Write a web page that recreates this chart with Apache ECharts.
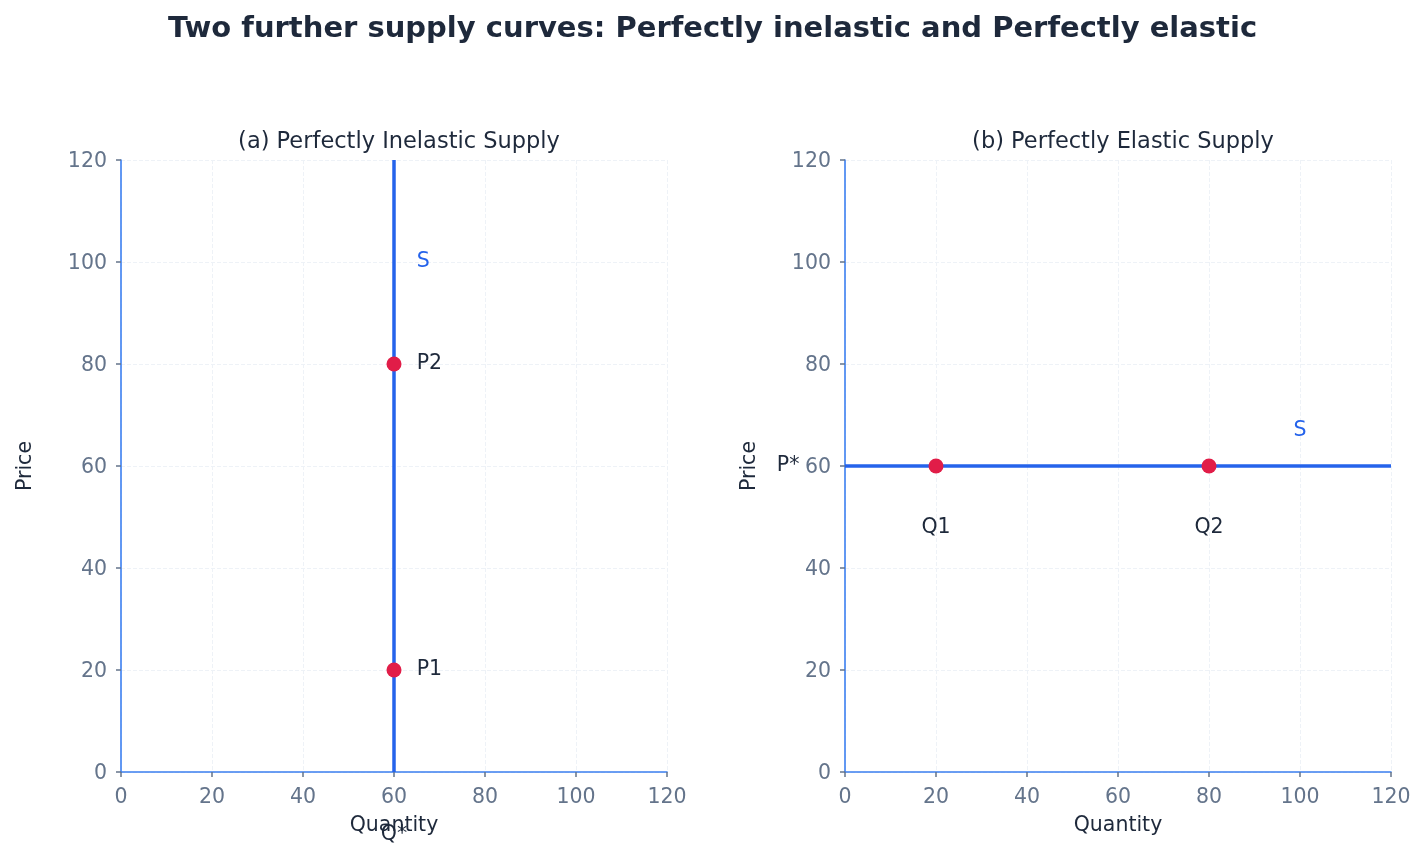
<!DOCTYPE html>
<html>
<head>
<meta charset="utf-8">
<script src="https://cdn.jsdelivr.net/npm/echarts@6/dist/echarts.min.js"></script>
<style>
html,body{margin:0;padding:0;background:#fff;}
#c{width:1425px;height:858px;}
</style>
</head>
<body>
<div id="c"></div>
<script>
// ---- data ----
const ticks = [0, 20, 40, 60, 80, 100, 120];
const inelasticLine = [[60, 0], [60, 120]];
const inelasticPoints = [[60, 20], [60, 80]];
const inelasticLabels = [[65, 100, 'S'], [65, 80, 'P2'], [65, 20, 'P1']];
const inelasticQStar = [[60, -12.2, 'Q*']];
const elasticLine = [[0, 60], [120, 60]];
const elasticPoints = [[20, 60], [80, 60]];
const elasticLabels = [[20, 48, 'Q1'], [80, 48, 'Q2'], [100, 67, 'S']];
const elasticPStar = [[-12.5, 60, 'P*']];

const FONT = 'DejaVu Sans';
const BLUE = '#2563eb';
const AXIS = '#3b7ff0';
const RED = '#e11d48';
const DARK = '#1e293b';
const GRAY = '#64748b';
const FS = 20.5;

function xAxis(idx) {
  return {
    gridIndex: idx, type: 'value', min: 0, max: 120, interval: 20,
    name: 'Quantity', nameLocation: 'middle', nameGap: 43,
    nameTextStyle: { color: DARK, fontSize: FS, fontFamily: FONT },
    axisLine: { show: true, onZero: false, lineStyle: { color: AXIS, width: 1.6 } },
    axisTick: { show: true, length: 5, lineStyle: { color: GRAY, width: 1.5 } },
    axisLabel: { color: GRAY, fontSize: FS, fontFamily: FONT, margin: 15 },
    splitLine: { show: true, lineStyle: { color: '#eef2f7', type: 'dashed', width: 1 } }
  };
}
function yAxis(idx) {
  return {
    gridIndex: idx, type: 'value', min: 0, max: 120, interval: 20,
    name: 'Price', nameLocation: 'middle', nameGap: 85,
    nameTextStyle: { color: DARK, fontSize: FS, fontFamily: FONT },
    axisLine: { show: true, onZero: false, lineStyle: { color: AXIS, width: 1.6 } },
    axisTick: { show: true, length: 5, lineStyle: { color: GRAY, width: 1.5 } },
    axisLabel: {
      color: GRAY, fontSize: FS, fontFamily: FONT, margin: 14,
      formatter: v => '{t|' + v + '}',
      rich: { t: { color: GRAY, fontSize: FS, fontFamily: FONT, padding: [4, 0, 0, 0] } }
    },
    splitLine: { show: true, lineStyle: { color: '#eef2f7', type: 'dashed', width: 1 } }
  };
}
function textSeries(idx, data, color, align) {
  return {
    type: 'scatter', xAxisIndex: idx, yAxisIndex: idx, data: data,
    symbolSize: 0, clip: false, silent: true, z: 5,
    itemStyle: { opacity: 1 },
    emphasis: { disabled: true },
    label: {
      show: true, position: [0, 0], align: align, verticalAlign: 'middle',
      formatter: p => p.data[2], color: color, fontSize: FS, fontFamily: FONT, opacity: 1
    }
  };
}

const chart = echarts.init(document.getElementById('c'), null, { renderer: 'canvas' });
chart.setOption({
  backgroundColor: '#ffffff',
  animation: false,
  title: [
    { text: 'Two further supply curves: Perfectly inelastic and Perfectly elastic',
      left: 'center', top: 10,
      textStyle: { color: DARK, fontSize: 29, fontWeight: 'bold', fontFamily: FONT } },
    { text: '(a) Perfectly Inelastic Supply', left: 394, textAlign: 'center', top: 126,
      textStyle: { color: DARK, fontSize: 22.5, fontWeight: 'normal', fontFamily: FONT } },
    { text: '(b) Perfectly Elastic Supply', left: 1118, textAlign: 'center', top: 126,
      textStyle: { color: DARK, fontSize: 22.5, fontWeight: 'normal', fontFamily: FONT } }
  ],
  grid: [
    { left: 121, right: 758, top: 160, bottom: 86, containLabel: false },
    { left: 845, right: 34, top: 160, bottom: 86, containLabel: false }
  ],
  xAxis: [xAxis(0), xAxis(1)],
  yAxis: [yAxis(0), yAxis(1)],
  series: [
    { type: 'line', xAxisIndex: 0, yAxisIndex: 0, data: inelasticLine, showSymbol: false,
      lineStyle: { color: BLUE, width: 3.5 }, z: 3, silent: true },
    { type: 'scatter', xAxisIndex: 0, yAxisIndex: 0, data: inelasticPoints,
      symbolSize: 15, itemStyle: { color: RED, opacity: 1 }, z: 4, silent: true },
    textSeries(0, inelasticLabels.filter(d => d[2] === 'S'), BLUE, 'left'),
    textSeries(0, inelasticLabels.filter(d => d[2] !== 'S'), DARK, 'left'),
    textSeries(0, inelasticQStar, DARK, 'center'),
    { type: 'line', xAxisIndex: 1, yAxisIndex: 1, data: elasticLine, showSymbol: false,
      lineStyle: { color: BLUE, width: 3.5 }, z: 3, silent: true },
    { type: 'scatter', xAxisIndex: 1, yAxisIndex: 1, data: elasticPoints,
      symbolSize: 15, itemStyle: { color: RED, opacity: 1 }, z: 4, silent: true },
    textSeries(1, elasticLabels.filter(d => d[2] !== 'S'), DARK, 'center'),
    textSeries(1, elasticLabels.filter(d => d[2] === 'S'), BLUE, 'center'),
    textSeries(1, elasticPStar, DARK, 'center')
  ]
});
</script>
</body>
</html>
